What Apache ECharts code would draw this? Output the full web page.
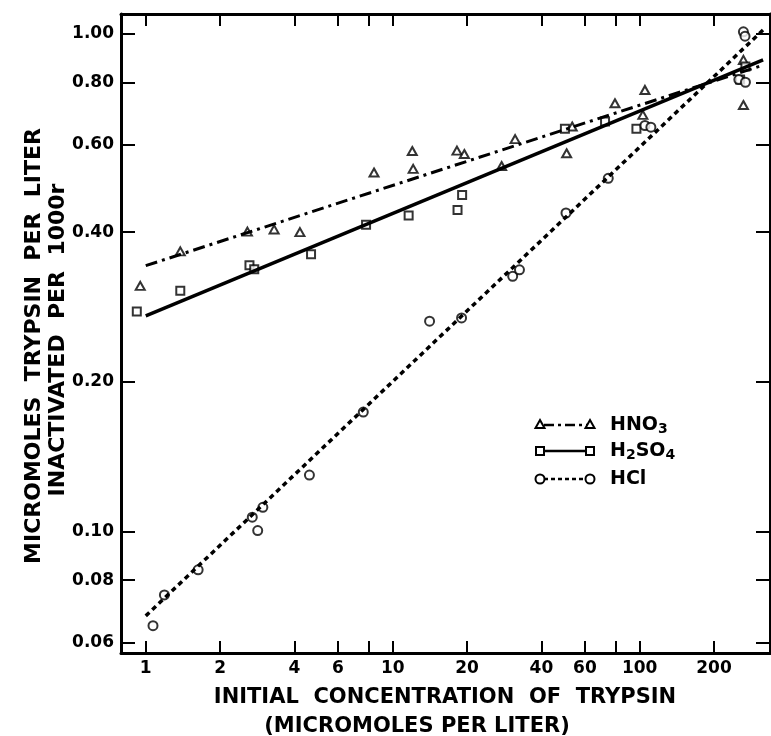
<!DOCTYPE html>
<html><head><meta charset="utf-8">
<script src="https://cdn.jsdelivr.net/npm/echarts@6/dist/echarts.min.js"></script>
<style>html,body{margin:0;padding:0;background:#fff}#c{width:771px;height:736px}</style>
</head><body><div id="c"></div>
<script>
// ---- data ----
const xTicks = [1, 2, 4, 6, 8, 10, 20, 40, 60, 80, 100, 200];
const xLabeled = [1, 2, 4, 6, 10, 20, 40, 60, 100, 200];
const yTicks = [0.06, 0.08, 0.10, 0.20, 0.40, 0.60, 0.80, 1.00];

const hno3Points = [
  [0.95, 0.312], [1.38, 0.366], [2.58, 0.401], [3.31, 0.405], [4.21, 0.400],
  [8.4, 0.527], [12.0, 0.582], [12.1, 0.536], [18.2, 0.583], [19.5, 0.574],
  [27.6, 0.543], [31.3, 0.615], [50.6, 0.576], [53.3, 0.652], [79.4, 0.726],
  [103, 0.688], [105, 0.772], [263, 0.887], [263, 0.720]
];
const h2so4Points = [
  [0.92, 0.277], [1.38, 0.305], [2.63, 0.343], [2.75, 0.337], [4.67, 0.361],
  [7.8, 0.414], [11.6, 0.432], [18.3, 0.443], [19.1, 0.475], [49.8, 0.645],
  [72.4, 0.667], [97, 0.645], [255, 0.810], [268, 0.860]
];
const hclPoints = [
  [1.07, 0.0648], [1.19, 0.0747], [1.63, 0.0839], [2.70, 0.107], [2.98, 0.112],
  [2.84, 0.1006], [4.6, 0.130], [7.6, 0.174], [14.1, 0.265], [19.0, 0.269],
  [30.6, 0.326], [32.6, 0.336], [50.3, 0.437], [74.6, 0.513], [105, 0.655],
  [111, 0.650], [252, 0.810], [268, 0.800], [263, 1.01], [267, 0.99]
];
const hno3Fit = [[1.0, 0.3425], [316, 0.866]];
const h2so4Fit = [[1.0, 0.2715], [316, 0.887]];
const hclFit = [[1.0, 0.0678], [316, 1.019]];

const xMin = 0.794, xMax = 337;
const yMin = 0.0571, yMax = 1.097;

// ---- chart ----
const FONT = 'DejaVu Sans';
const chart = echarts.init(document.getElementById('c'), null, {renderer: 'canvas'});

function xAxisCfg(pos, labels) {
  return {
    type: 'log', logBase: 10, min: xMin, max: xMax, position: pos,
    axisLine: {show: true, onZero: false, lineStyle: {color: '#000', width: 3}},
    axisTick: {show: true, inside: true, length: 12, customValues: xTicks,
               lineStyle: {color: '#000', width: 2}},
    axisLabel: {show: labels, customValues: xLabeled, color: '#000', fontSize: 17,
                fontWeight: 'bold', fontFamily: FONT, margin: 7,
                formatter: v => String(Math.round(v))},
    splitLine: {show: false}, minorTick: {show: false}, minorSplitLine: {show: false}
  };
}
function yAxisCfg(pos, labels) {
  return {
    type: 'log', logBase: 10, min: yMin, max: yMax, position: pos,
    axisLine: {show: true, onZero: false, lineStyle: {color: '#000', width: 3}},
    axisTick: {show: true, inside: true, length: 14, customValues: yTicks,
               lineStyle: {color: '#000', width: 2}},
    axisLabel: {show: labels, customValues: yTicks, color: '#000', fontSize: 17,
                fontWeight: 'bold', fontFamily: FONT, margin: 7,
                formatter: v => Number(v).toFixed(2)},
    splitLine: {show: false}, minorTick: {show: false}, minorSplitLine: {show: false}
  };
}

const markerStyle = {color: '#fff', borderColor: '#000', borderWidth: 2};

const legendRows = [
  {name: 'HNO{s|3}', symbol: 'triangle', dash: [10, 4, 3, 4], y: 425},
  {name: 'H{s|2}SO{s|4}', symbol: 'rect', dash: 'solid', y: 451},
  {name: 'HCl', symbol: 'circle', dash: [4, 3], y: 479}
];
const graphics = [];
legendRows.forEach(r => {
  graphics.push({type: 'line', shape: {x1: 544, y1: r.y, x2: 587, y2: r.y},
    style: {stroke: '#000', lineWidth: 2.5, lineDash: r.dash === 'solid' ? null : r.dash}});
  [540, 590].forEach(x => {
    if (r.symbol === 'circle') {
      graphics.push({type: 'circle', shape: {cx: x, cy: r.y, r: 4.5},
        style: {fill: '#fff', stroke: '#000', lineWidth: 2}});
    } else if (r.symbol === 'rect') {
      graphics.push({type: 'rect', shape: {x: x - 4, y: r.y - 4, width: 8, height: 8},
        style: {fill: '#fff', stroke: '#000', lineWidth: 2}});
    } else {
      graphics.push({type: 'polygon', shape: {points: [[x, r.y - 5], [x + 4.5, r.y + 3], [x - 4.5, r.y + 3]]},
        style: {fill: '#fff', stroke: '#000', lineWidth: 2}});
    }
  });
  graphics.push({type: 'text', x: 610, y: r.y, style: {
    text: r.name, fill: '#000', verticalAlign: 'middle',
    font: 'bold 19px ' + FONT,
    rich: {s: {fontSize: 14, fontWeight: 'bold', fontFamily: FONT, padding: [9, 0, 0, 0]}}
  }});
});
// axis titles
graphics.push({type: 'text', x: 445, y: 698, style: {text: 'INITIAL  CONCENTRATION  OF  TRYPSIN',
  fill: '#000', font: 'bold 21px ' + FONT, align: 'center', verticalAlign: 'middle'}});
graphics.push({type: 'text', x: 417, y: 727, style: {text: '(MICROMOLES PER LITER)',
  fill: '#000', font: 'bold 21px ' + FONT, align: 'center', verticalAlign: 'middle'}});
graphics.push({type: 'text', x: 34, y: 346, rotation: Math.PI / 2, style: {
  text: 'MICROMOLES  TRYPSIN  PER  LITER', fill: '#000', font: 'bold 22px ' + FONT,
  align: 'center', verticalAlign: 'middle'}});
graphics.push({type: 'text', x: 58, y: 340, rotation: Math.PI / 2, style: {
  text: 'INACTIVATED  PER  1000r', fill: '#000', font: 'bold 22px ' + FONT,
  align: 'center', verticalAlign: 'middle'}});

chart.setOption({
  animation: false,
  backgroundColor: '#fff',
  grid: {left: 121, right: 1, top: 14, bottom: 83, containLabel: false},
  xAxis: [xAxisCfg('bottom', true), xAxisCfg('top', false)],
  yAxis: [yAxisCfg('left', true), yAxisCfg('right', false)],
  series: [
    {name: 'HNO3 fit', type: 'line', data: hno3Fit, showSymbol: false, silent: true,
     lineStyle: {color: '#000', width: 3, type: [12, 5, 3, 5]}},
    {name: 'H2SO4 fit', type: 'line', data: h2so4Fit, showSymbol: false, silent: true,
     lineStyle: {color: '#000', width: 3.5, type: 'solid'}},
    {name: 'HCl fit', type: 'line', data: hclFit, showSymbol: false, silent: true,
     lineStyle: {color: '#000', width: 3.5, type: [5, 4]}},
    {name: 'HNO3', type: 'scatter', data: hno3Points, symbol: 'triangle', symbolSize: [9, 8],
     itemStyle: markerStyle},
    {name: 'H2SO4', type: 'scatter', data: h2so4Points, symbol: 'rect', symbolSize: 8,
     itemStyle: markerStyle},
    {name: 'HCl', type: 'scatter', data: hclPoints, symbol: 'circle', symbolSize: 9,
     itemStyle: markerStyle}
  ],
  graphic: graphics
});
</script>
</body></html>
